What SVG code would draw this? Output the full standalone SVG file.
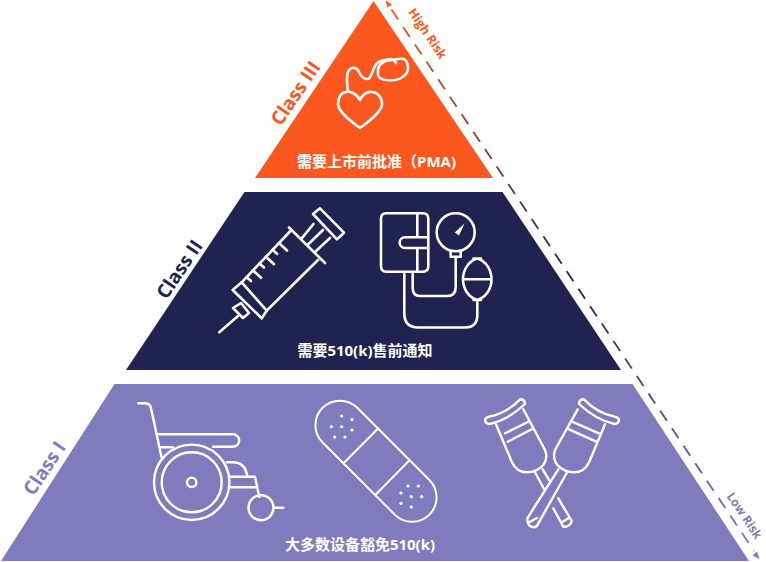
<svg xmlns="http://www.w3.org/2000/svg" width="766" height="562" viewBox="0 0 766 562">
<style>
.ic{fill:none;stroke:#fff;stroke-linecap:round;stroke-linejoin:round}
.cap{font-family:"Open Sans","Noto Sans CJK SC",sans-serif;font-weight:700;font-size:15px;fill:#fff;text-anchor:middle}
.cl{font-family:"Open Sans","Noto Sans",sans-serif;font-weight:700;font-size:19px;text-anchor:middle}
.rk{font-family:"Open Sans","Noto Sans",sans-serif;font-weight:700;font-size:12.500px;text-anchor:middle}
.rl{font-family:"Open Sans","Noto Sans",sans-serif;font-weight:700;font-size:12px;text-anchor:middle}
</style>
<defs>
<linearGradient id="g" gradientUnits="userSpaceOnUse" x1="386" y1="3" x2="760" y2="553">
<stop offset="0" stop-color="#fd5720"/><stop offset="0.5" stop-color="#20224f"/><stop offset="1" stop-color="#7f7bbd"/>
</linearGradient>
</defs>
<g id="connectors">
<path d="M391.500 9.500L754 551" fill="none" stroke="url(#g)" stroke-width="1.800" stroke-dasharray="12 9"/>
<path d="M385.500 0.500L392 4.500L387.500 7.500Z" fill="#fd5720"/>
<path d="M759.500 559L752.500 555.500L757 551.500Z" fill="#7f7bbd"/>
</g>
<g id="class3">
<path d="M373.500 1L493 178H255Z" fill="#fd5720"/>
<path class="ic" stroke-width="2.600" d="M360 100C356 93 350 91 346 92C341 92 338 98 338 104C338 112 352 122 360 128C368 122 382 112 382 104C382 97 377 92 372 92C367 91 362 95 360 100Z"/>
<path class="ic" stroke-width="2.600" d="M348 91C347 85 346 78 348 72C350 67 356 66 358.500 71C361 77 365 80 369 78.500C373 75 372 67 378.500 62C382 60 386 59.500 388 59.500"/>
<path class="ic" stroke-width="2.600" d="M378 72C377 65 384 60 392 60L401 58.500C406 58.500 408 63 408 68C408 74 402 79 395 80C386 81 377 80 378 72ZM388 59.500Q394 58 396 63"/>
<text class="cap" x="376.500" y="167">需要上市前批准（PMA)</text>
<text class="cl" x="0" y="0" transform="translate(301 97) rotate(-56)" fill="#fd5720">Class III</text>
<text class="rk" x="0" y="0" transform="translate(424 36) rotate(56)" fill="#fd5720">High Risk</text>
</g>
<g id="class2">
<path d="M244.500 192H502.500L621 370H126Z" fill="#20224f"/>
<g class="ic" stroke-width="2.600">
<path d="M219.300 332.300L238 316"/>
<path d="M233 308L241 303L249 313L243 318Z"/>
<path d="M232.700 290L241.700 282.300L266.700 310.700L261.700 318.300Z"/>
<path d="M241.700 282.300L290 231.500M266.700 310.700L318 260"/>
<path d="M289 227.500L325 263"/>
<path d="M301.700 238.300L313.500 224M307.500 245L323 230M315 252L330 238"/>
<path d="M313 214L320 208.300L344 232.700L337 239.300Z"/>
<path d="M279 243L287 250.500M272.500 249.800L277 253.800M266 256.700L274 264.200M259.500 263.500L264 267.500M253 270.300L261 277.800M246.500 277.100L251 281"/>
<path d="M381 219Q381 213.300 386 213.300H423Q428.300 213.300 428.300 219V266Q428.300 271.700 423 271.700H386Q381 271.700 381 266Z"/>
<path d="M417.300 213.300V237.300M417.300 248V271.700M428 237.300H405A5.300 5.300 0 0 0 405 248H428"/>
<circle cx="455.700" cy="232.300" r="19"/>
<path d="M450.700 251.700V256.700H460.700V251.700"/>
<path d="M455.700 257V287Q455.700 296 447 296H420Q412.700 296 412.700 288V274"/>
<path d="M404.300 274V313Q404.300 327.500 418 327.500H465Q477.300 327.500 477.300 315V302"/>
<path d="M473.500 258.500H481M473.500 300H481M477.300 258.500C486 261 491.500 270 491.500 279.300C491.500 289 486 297 477.300 300C468.500 297 463 289 463 279.300C463 270 468.500 261 477.300 258.500ZM463 279.300H491.500"/>
</g>
<path d="M464.500 223.500L459 235.500L454.800 232.500Z" fill="#fff"/>
<text class="cap" x="365" y="356">需要510(k)售前通知</text>
<text class="cl" x="0" y="0" transform="translate(185 273) rotate(-56)" fill="#20224f">Class II</text>
</g>
<g id="class1">
<path d="M114.500 384H632.500L749 561H1Z" fill="#7f7bbd"/>
<g class="ic" stroke-width="2.400">
<path d="M138.300 403.300H145Q150 403.300 151 408L161.700 458"/>
<path d="M158.500 434.300H233A6.200 6.200 0 0 1 233 446.700H213M160.700 447.300H173"/>
<circle cx="191.700" cy="482.300" r="37.700"/><circle cx="191.700" cy="482.300" r="30"/><circle cx="191.700" cy="482.300" r="4.700"/>
<path d="M226.700 462.300H233Q245 462.300 247.300 476M230 476.700H255L259.300 497M230 487.300H257"/>
<circle cx="261" cy="507.700" r="12.500"/><path d="M273.500 507.700H283.300"/>
</g>
<g class="ic" stroke-width="2">
<rect x="300.500" y="436.700" width="151" height="49" rx="24.500" transform="rotate(45 376 461.200)"/>
<path d="M378.300 428.300L344 462.700M409 460.700L376 494.300"/>
</g>
<g fill="#fff">
<circle cx="341.700" cy="416" r="1.600"/><circle cx="352" cy="419.700" r="1.600"/><circle cx="331.300" cy="426.700" r="1.600"/><circle cx="341.700" cy="426.700" r="1.600"/><circle cx="352" cy="430" r="1.600"/><circle cx="334.700" cy="437" r="1.600"/><circle cx="345" cy="437" r="1.600"/>
<circle cx="408" cy="486" r="1.600"/><circle cx="418.300" cy="486" r="1.600"/><circle cx="401" cy="493" r="1.600"/><circle cx="411.300" cy="496.700" r="1.600"/><circle cx="421.700" cy="496.700" r="1.600"/><circle cx="401" cy="503.300" r="1.600"/><circle cx="411.300" cy="507" r="1.600"/>
</g>
<g class="ic" stroke-width="2.400">
<path d="M489.300 416.700Q507 413 520 399.300Q525 399.300 525 404Q508 420 489.300 424Q485 423.300 485 420Q485.700 417.300 489.300 416.700Z"/>
<path d="M496 424.300L511.700 461.700Q516.700 472.300 526.700 472.300Q536.700 472.300 543.300 465Q548.300 458.300 545 450L523.300 409.300"/>
<path d="M505 433.300L528.300 421.700M507.700 441.700L531.700 429.300"/>
<path d="M535 472.300L544 489M542.700 469.300L549 480M558.300 498.300L571.700 521Q570 527.300 563.300 526.700L553.300 508.300M562.700 521.700L568.300 518.300"/>
<path d="M614.700 416.700Q597 413 584 399.300Q579 399.300 579 404Q596 420 614.700 424Q619 423.300 619 420Q618.300 417.300 614.700 416.700Z"/>
<path d="M605 424.300L589.300 461.700Q584.300 472.300 574.300 472.300Q564.300 472.300 557.300 465Q552.300 458.300 555 450L577.700 409.300"/>
<path d="M599 433.300L572 421.700M596.300 441.700L569 429.300"/>
<path d="M558.300 469.300L527.300 518.300Q527.300 527.300 534 527.300Q537 527.300 538.300 523.300L566.700 473M530 521.700L537 518"/>
</g>
<text class="cap" x="360" y="550">大多数设备豁免510(k)</text>
<text class="cl" x="0" y="0" transform="translate(50 472) rotate(-56)" fill="#7f7bbd">Class I</text>
<text class="rl" x="0" y="0" transform="translate(741 518) rotate(56)" fill="#7f7bbd">Low Risk</text>
</g>
</svg>
